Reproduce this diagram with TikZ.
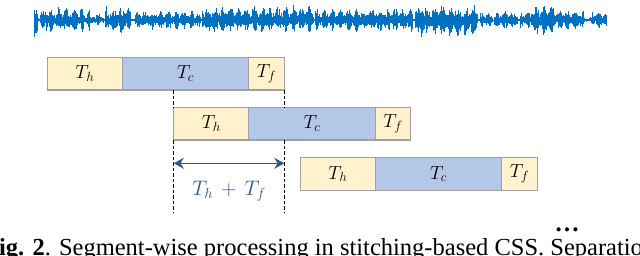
\RequirePackage{fix-cm}
\documentclass[tikz,border=0pt]{standalone}
\usepackage{fontspec}
\setmainfont{Liberation Serif}
\usetikzlibrary{arrows.meta,positioning}
\definecolor{wavecol}{HTML}{0070C0}
\definecolor{headcol}{HTML}{FFF2CC}
\definecolor{centcol}{HTML}{B4C7E7}
\definecolor{segline}{HTML}{A0A0A0}
\definecolor{spancol}{HTML}{2F5597}

\begin{document}
\begin{tikzpicture}[x=1pt,y=-1pt,
  seg/.style={draw=segline,line width=1.1pt,inner sep=0pt,outer sep=0pt,
    minimum height=32.7pt,font=\fontsize{19}{22}\selectfont},
  hd/.style={seg,fill=headcol,minimum width=75pt},
  ct/.style={seg,fill=centcol,minimum width=126.5pt},
  ft/.style={seg,fill=headcol,minimum width=35.5pt},
  guide/.style={line width=1pt,dash pattern=on 3.5pt off 2pt},
  wave/.style={draw=wavecol,line width=0.8pt}]
  \path[use as bounding box,clip] (0,0) rectangle (640,255);
  \pgfmathsetseed{11}
  \draw[wave] (34,20) -- (606,20);
  \foreach \xa/\xb/\au/\ad in {34/37/16/20,37/40/4/4,40/46/13/13,46/47.5/13/28,
    47.5/83/13/13,83/87/6/6,87/89/16/13,89/92/4/4,92/103/7/6,103/105/2/2,
    105/130/14/13,130/135/3/3,135/200/10/10,200/202/3/3,202/230/15/14,
    230/313/15/13,313/315/3/3,315/347/11/11,347/412/12/12,412/415/2/2,
    415/421/16/16,421/423/20/27,423/440/15/15,440/477/15/17,477/480/2/2,
    480/492/8/8,492/494/2/2,494/517/9/9,517/520/2/2,520/531/9/9,
    531/553/15/16,553/583/10/11,583/592/3/3,592/606/9/8}{
    \pgfmathsetmacro\xn{\xa+0.5}
    \foreach \x in {\xa,\xn,...,\xb}{
      \pgfmathsetmacro\env{0.45+0.55*abs(sin(\x*23))^2}
      \pgfmathsetmacro\u{\au*\env*(0.3+0.7*rnd^1.3)}
      \pgfmathsetmacro\d{\ad*\env*(0.3+0.7*rnd^1.3)}
      \draw[wave] (\x,20-\u) -- (\x,20+\d);
    }
  }
  \node[hd,anchor=north west] (h1) at (47.3,57.3) {$T_h$};
  \node[ct,right=0pt of h1] (c1) {$T_c$};
  \node[ft,right=0pt of c1] (f1) {$T_f$};
  \node[ct,anchor=north west] (c2) at ([yshift=-17.3pt]c1.south east) {$T_c$};
  \node[hd,left=0pt of c2] (h2) {$T_h$};
  \node[ft,right=0pt of c2] (f2) {$T_f$};
  \node[ct,anchor=north west] (c3) at ([yshift=-17.6pt]c2.south east) {$T_c$};
  \node[hd,left=0pt of c3] (h3) {$T_h$};
  \node[ft,right=0pt of c3] (f3) {$T_f$};
  \coordinate (low) at (0,213);
  \draw[guide] (h2.west |- c1.south) -- (h2.north west);
  \draw[guide] (h2.south west) -- (h2.west |- low);
  \draw[guide] (f1.south east) -- (f1.east |- h2.north);
  \draw[guide] (f1.east |- h2.south) -- (f1.east |- low);
  \coordinate (al) at (h2.west |- 0,163.3);
  \coordinate (ar) at (f1.east |- 0,163.3);
  \draw[spancol,line width=1.5pt,{Stealth[length=10pt,width=11pt]}-{Stealth[length=10pt,width=11pt]}] (al) -- (ar);
  \node[text=spancol,font=\fontsize{21}{24}\selectfont] (span) at (229,191) {$T_h\,+\,T_f$};
  \node[anchor=base,font=\fontsize{25}{30}\selectfont] (dots) at (567,231) {\textbf{\ldots}};
  \node[anchor=base west,inner sep=0pt,font=\fontsize{24.5}{30}\selectfont] (cap) at (-16,255.5)
    {\textbf{Fig. 2}. Segment-wise processing in stitching-based CSS. Separation};
\end{tikzpicture}
\end{document}
